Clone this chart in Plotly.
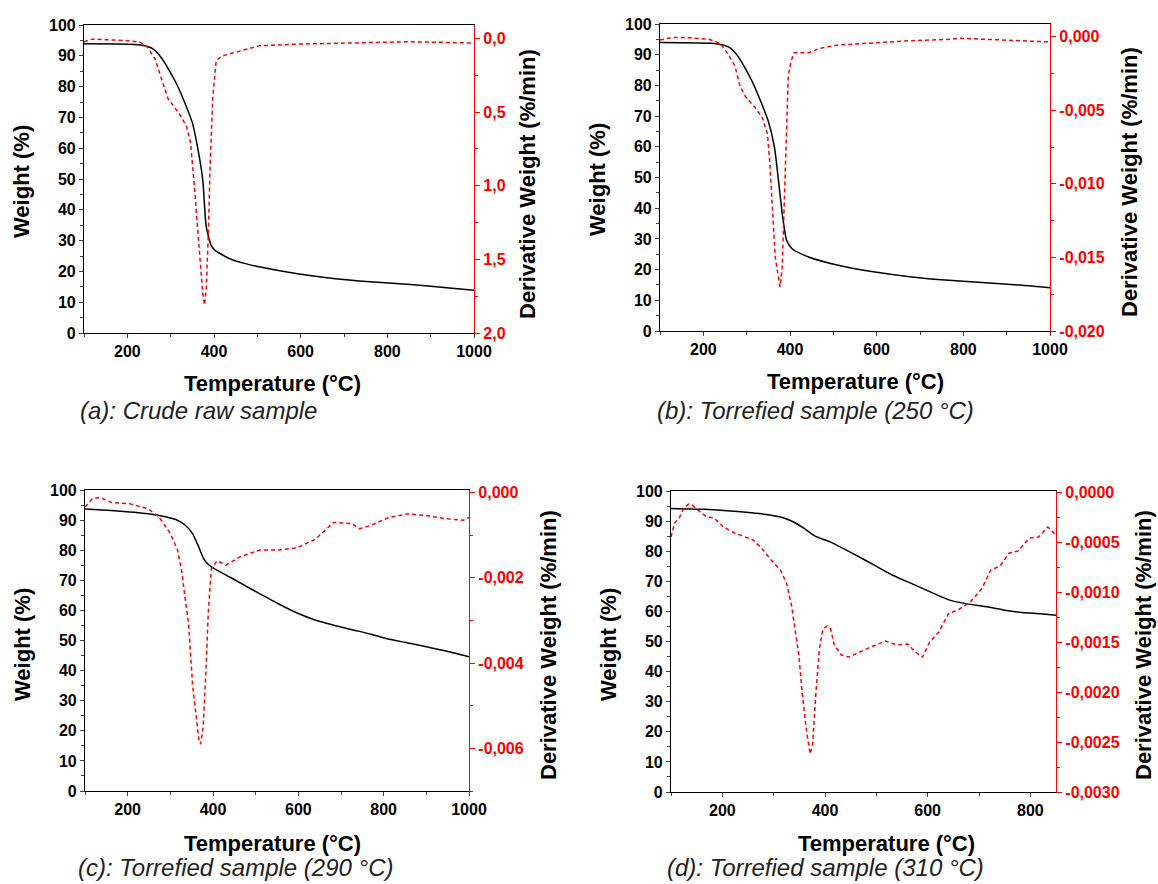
import plotly.graph_objects as go

# ---------------- data ----------------
# Panel (a): crude raw sample
temp_a_w = [100, 230, 260, 281, 316, 350, 363, 374, 382, 393, 401, 435, 470, 504, 589, 675, 760, 846, 931, 1000]
weight_a = [93.9, 93.5, 92.2, 88.9, 80.2, 68.3, 59.6, 49.8, 34.6, 28.6, 27.0, 24.2, 22.6, 21.5, 19.3, 17.7, 16.6, 15.8, 14.8, 13.9]
temp_a_d = [100, 119, 161, 204, 230, 247, 264, 281, 294, 307, 324, 337, 346, 354, 363, 367, 374, 378, 382, 387, 391, 397, 405, 418, 461, 504, 589, 675, 760, 846, 931, 1000]
deriv_a = [0.023, 0.005, 0.010, 0.016, 0.027, 0.06, 0.14, 0.30, 0.41, 0.46, 0.53, 0.60, 0.71, 0.98, 1.32, 1.50, 1.73, 1.81, 1.71, 1.32, 0.87, 0.41, 0.15, 0.12, 0.084, 0.05, 0.039, 0.032, 0.027, 0.023, 0.027, 0.032]

# Panel (b): torrefied 250 C
temp_b_w = [100, 230, 260, 281, 315, 349, 364, 375, 383, 392, 405, 443, 511, 596, 681, 766, 851, 936, 1000]
weight_b = [94.0, 93.6, 92.4, 89.3, 80.6, 68.7, 60.0, 47.0, 37.2, 29.6, 26.8, 24.1, 21.4, 19.2, 17.6, 16.5, 15.7, 14.9, 14.1]
temp_b_d = [100, 128, 170, 213, 239, 256, 273, 285, 298, 319, 336, 348, 353, 359, 366, 372, 377, 382, 386, 392, 396, 402, 409, 443, 468, 511, 596, 681, 766, 792, 851, 936, 1000]
deriv_b = [-0.00023, -0.00005, -0.00008, -0.00018, -0.00045, -0.00114, -0.0020, -0.0034, -0.0041, -0.0048, -0.0055, -0.0066, -0.0084, -0.0111, -0.0150, -0.0161, -0.0170, -0.0157, -0.0123, -0.0066, -0.0027, -0.0017, -0.0011, -0.0011, -0.0008, -0.00057, -0.0004, -0.00027, -0.00018, -0.00011, -0.00018, -0.00027, -0.00036]

# Panel (c): torrefied 290 C
temp_c_w = [100, 161, 248, 291, 317, 335, 352, 365, 378, 391, 404, 439, 474, 509, 552, 596, 639, 683, 726, 770, 813, 857, 900, 943, 1000]
weight_c = [93.7, 93.2, 92.1, 91.0, 89.9, 88.3, 85.5, 81.6, 77.2, 75.0, 73.8, 71.1, 68.3, 65.6, 62.3, 59.2, 56.8, 55.1, 53.6, 52.1, 50.4, 49.2, 47.9, 46.6, 44.6]
temp_c_d = [100, 117, 135, 161, 204, 248, 274, 300, 317, 326, 335, 343, 352, 361, 367, 371, 377, 383, 389, 396, 409, 430, 465, 509, 552, 596, 639, 683, 726, 743, 770, 813, 857, 900, 943, 987, 1000]
deriv_c = [-0.00034, -0.00015, -0.00011, -0.00023, -0.00026, -0.00038, -0.00058, -0.00096, -0.00135, -0.0018, -0.0025, -0.0031, -0.0045, -0.0052, -0.0058, -0.0059, -0.0055, -0.0043, -0.0028, -0.0018, -0.0016, -0.0017, -0.0015, -0.00135, -0.00135, -0.0013, -0.0011, -0.0007, -0.00073, -0.00085, -0.00077, -0.00058, -0.0005, -0.00054, -0.00061, -0.00065, -0.00058]

# Panel (d): torrefied 310 C
temp_d_w = [100, 166, 209, 281, 317, 339, 360, 382, 410, 461, 497, 532, 568, 605, 640, 676, 712, 748, 784, 820, 850]
weight_d = [94.2, 93.9, 93.4, 92.3, 91.2, 89.7, 87.5, 84.9, 83.1, 78.6, 75.3, 72.0, 69.3, 66.5, 63.9, 62.5, 61.6, 60.5, 59.6, 59.2, 58.7]
temp_d_d = [100, 107, 116, 123, 134, 141, 152, 170, 184, 202, 224, 245, 260, 276, 295, 313, 325, 335, 342, 349, 356, 364, 371, 376, 382, 389, 396, 404, 411, 418, 432, 446, 468, 489, 518, 540, 561, 576, 590, 604, 622, 640, 662, 683, 705, 723, 741, 759, 776, 798, 816, 834, 850]
deriv_d = [-0.00045, -0.00031, -0.00026, -0.00018, -0.00012, -0.00013, -0.00018, -0.00025, -0.00026, -0.00035, -0.00041, -0.00045, -0.00048, -0.00056, -0.00068, -0.00078, -0.00091, -0.00114, -0.00137, -0.00163, -0.00203, -0.00239, -0.00262, -0.00252, -0.00203, -0.00157, -0.00137, -0.00134, -0.00137, -0.00153, -0.00163, -0.00165, -0.0016, -0.00155, -0.00149, -0.00153, -0.00152, -0.0016, -0.00165, -0.0015, -0.0014, -0.00122, -0.00117, -0.0011, -0.00097, -0.00078, -0.00074, -0.00061, -0.00059, -0.00046, -0.00045, -0.00035, -0.00043]

captions = ["(a): Crude raw sample", "(b): Torrefied sample (250 °C)",
            "(c): Torrefied sample (290 °C)", "(d): Torrefied sample (310 °C)"]
x_title = "Temperature (°C)"
y_title = "Weight (%)"
y2_title = "Derivative Weight (%/min)"

# right-axis tick definitions
r_tickvals = [
    [0.0, 0.5, 1.0, 1.5, 2.0],
    [0.0, -0.005, -0.010, -0.015, -0.020],
    [0.0, -0.002, -0.004, -0.006],
    [0.0, -0.0005, -0.0010, -0.0015, -0.0020, -0.0025, -0.0030],
]
r_ticktext = [
    ["0,0", "0,5", "1,0", "1,5", "2,0"],
    ["0,000", "-0,005", "-0,010", "-0,015", "-0,020"],
    ["0,000", "-0,002", "-0,004", "-0,006"],
    ["0,0000", "-0,0005", "-0,0010", "-0,0015", "-0,0020", "-0,0025", "-0,0030"],
]
r_ranges = [[2.0, -0.091], [-0.020, 0.00086], [-0.0070, 0.00006], [-0.0030, 0.00001]]
r_minor = [0.25, 0.0025, 0.001, 0.00025]
x_ranges = [[100, 1000], [100, 1000], [100, 1000], [100, 850]]

# ---------------- layout geometry (pixels) ----------------
W, H = 1158, 884
boxes = [  # x0, x1, ytop, ybottom
    (84, 474, 25, 333),
    (660, 1050, 24, 331),
    (85, 469, 490, 791),
    (671, 1056, 491, 792),
]
fx = lambda p: p / W
fy = lambda p: 1 - p / H

FONT = "Liberation Sans"
RED = "#ff0000"

fig = go.Figure()
temps_w = [temp_a_w, temp_b_w, temp_c_w, temp_d_w]
weights = [weight_a, weight_b, weight_c, weight_d]
temps_d = [temp_a_d, temp_b_d, temp_c_d, temp_d_d]
derivs = [deriv_a, deriv_b, deriv_c, deriv_d]

layout = {}
annotations = []
for i in range(4):
    n = i + 1
    xs = "" if n == 1 else str(n)
    yl = 2 * i + 1
    yr = 2 * i + 2
    yls = "" if yl == 1 else str(yl)
    yrs = str(yr)
    x0, x1, yt, yb = boxes[i]

    fig.add_trace(go.Scatter(x=temps_w[i], y=weights[i], mode="lines",
                             line=dict(color="black", width=1.5, shape="spline", smoothing=0.6),
                             xaxis="x" + xs, yaxis="y" + yls, showlegend=False))
    fig.add_trace(go.Scatter(x=temps_d[i], y=derivs[i], mode="lines",
                             line=dict(color=RED, width=1.5, dash="4px,3px"),
                             xaxis="x" + xs, yaxis="y" + yrs, showlegend=False))

    layout["xaxis" + xs] = dict(
        domain=[fx(x0), fx(x1)], anchor="y" + yls, range=x_ranges[i],
        showline=True, linecolor="black", linewidth=1.2, mirror=True,
        ticks="outside", ticklen=4, tickcolor="#444", tickwidth=1,
        tickvals=[200, 400, 600, 800, 1000] if i < 3 else [200, 400, 600, 800],
        minor=dict(ticks="outside", ticklen=3, tickcolor="#444", dtick=100, tick0=100),
        tickfont=dict(family=FONT, size=16, color="black", weight="bold"),
        showgrid=False, zeroline=False, automargin=False,
    )
    layout["yaxis" + yls] = dict(
        domain=[fy(yb), fy(yt)], anchor="x" + xs, range=[0, 100],
        showline=True, linecolor="black", linewidth=1.2,
        ticks="outside", ticklen=4, tickcolor="#444", dtick=10, tick0=0,
        minor=dict(ticks="outside", ticklen=3, tickcolor="#444", dtick=5),
        tickfont=dict(family=FONT, size=16, color="black", weight="bold"),
        showgrid=False, zeroline=False, automargin=False,
    )
    layout["yaxis" + yrs] = dict(
        domain=[fy(yb), fy(yt)], anchor="x" + xs, overlaying="y" + yls, side="right",
        range=r_ranges[i],
        showline=True, linecolor=RED, linewidth=1.2,
        ticks="outside", ticklen=5, tickcolor=RED,
        tickvals=r_tickvals[i], ticktext=r_ticktext[i],
        minor=dict(ticks="outside", ticklen=3, tickcolor=RED, dtick=r_minor[i], tick0=0),
        tickfont=dict(family=FONT, size=16, color=RED, weight="bold"),
        showgrid=False, zeroline=False, automargin=False,
    )

# text positions (pixels)
xt_pos = [(272, 383), (855, 381), (272, 843), (886, 843)]
yt_pos = [(22, 182), (598, 180), (22, 645), (608, 645)]
y2t_pos = [(527, 184), (1130, 182), (548, 645), (1143, 645)]
cap_pos = [(78, 410), (655, 410), (76, 867), (665, 867)]

for i in range(4):
    annotations.append(dict(text=x_title, x=fx(xt_pos[i][0]), y=fy(xt_pos[i][1]),
                            xref="paper", yref="paper", showarrow=False,
                            xanchor="center", yanchor="middle",
                            font=dict(family=FONT, size=22, color="black", weight="bold")))
    annotations.append(dict(text=y_title, x=fx(yt_pos[i][0]), y=fy(yt_pos[i][1]),
                            xref="paper", yref="paper", showarrow=False, textangle=-90,
                            xanchor="center", yanchor="middle",
                            font=dict(family=FONT, size=22, color="black", weight="bold")))
    annotations.append(dict(text=y2_title, x=fx(y2t_pos[i][0]), y=fy(y2t_pos[i][1]),
                            xref="paper", yref="paper", showarrow=False, textangle=-90,
                            xanchor="center", yanchor="middle",
                            font=dict(family=FONT, size=22, color="black", weight="bold")))
    annotations.append(dict(text=captions[i], x=fx(cap_pos[i][0]), y=fy(cap_pos[i][1]),
                            xref="paper", yref="paper", showarrow=False,
                            xanchor="left", yanchor="middle",
                            font=dict(family=FONT, size=24, color="#222", style="italic")))

fig.update_layout(width=W, height=H,
                  margin=dict(l=0, r=0, t=0, b=0, pad=0, autoexpand=False),
                  paper_bgcolor="white", plot_bgcolor="white",
                  annotations=annotations, showlegend=False, **layout)

fig.write_html("out.html", config={"displayModeBar": False},
               post_script="document.body.style.margin='0';document.body.style.overflow='hidden';")
